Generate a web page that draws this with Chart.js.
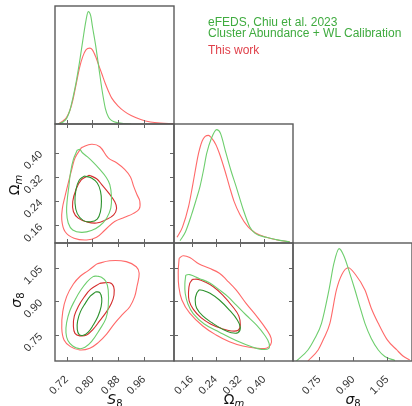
<!DOCTYPE html>
<html>
<head>
<meta charset="utf-8">
<script src="https://cdn.jsdelivr.net/npm/chart.js@4.4.0/dist/chart.umd.min.js"></script>
<style>
  html, body { margin: 0; padding: 0; background: #fff; }
  #wrap { position: relative; width: 412px; height: 406px; overflow: hidden; }
  canvas { position: absolute; left: 0; top: 0; }
  .leg { position: absolute; left: 208px; font: 12px/12px "Liberation Sans", Arial, sans-serif; white-space: nowrap; }
  .ttl { position: absolute; font: 14px/14px "DejaVu Sans", sans-serif; color: #111; white-space: nowrap; transform: translate(-50%, -50%); }
  .ttl i { font-style: oblique; }
  .ttl sub { font-size: 10px; vertical-align: -3px; line-height: 0; }
  .rot { transform: translate(-50%, -50%) rotate(-90deg); }
</style>
</head>
<body>
<div id="wrap">
  <canvas id="p11" width="412" height="406"></canvas>
  <canvas id="p21" width="412" height="406"></canvas>
  <canvas id="p22" width="412" height="406"></canvas>
  <canvas id="p31" width="412" height="406"></canvas>
  <canvas id="p32" width="412" height="406"></canvas>
  <canvas id="p33" width="412" height="406"></canvas>

  <div class="leg" style="top:15.5px;color:#3fab3f">eFEDS, Chiu et al. 2023</div>
  <div class="leg" style="top:27px;color:#3fab3f">Cluster Abundance + WL Calibration</div>
  <div class="leg" style="top:44px;color:#e0404a">This work</div>

  <div class="ttl" style="left:115px;top:399px"><i>S</i><sub>8</sub></div>
  <div class="ttl" style="left:234px;top:399px">Ω<sub><i>m</i></sub></div>
  <div class="ttl" style="left:353px;top:399px"><i>σ</i><sub>8</sub></div>
  <div class="ttl rot" style="left:14px;top:185px">Ω<sub><i>m</i></sub></div>
  <div class="ttl rot" style="left:16px;top:300px"><i>σ</i><sub>8</sub></div>
</div>
<script>
// tick labels
const s8Ticks = [0.72, 0.80, 0.88, 0.96];
const omTicks = [0.16, 0.24, 0.32, 0.40];
const sigTicks = [0.75, 0.90, 1.05];

// 1D marginals (normalised to the Chiu peak)
const chiuS8X = [0.694, 0.71, 0.72, 0.73, 0.74, 0.75, 0.76, 0.77, 0.78, 0.787, 0.795, 0.80, 0.81, 0.82, 0.83, 0.84, 0.85, 0.86, 0.88, 0.90, 0.92];
const chiuS8P = [0, 0.02, 0.05, 0.12, 0.24, 0.38, 0.55, 0.74, 0.92, 1.0, 0.96, 0.87, 0.70, 0.5, 0.3, 0.14, 0.06, 0.03, 0.01, 0.003, 0];
const workS8X = [0.694, 0.71, 0.72, 0.73, 0.74, 0.75, 0.76, 0.77, 0.78, 0.792, 0.80, 0.81, 0.82, 0.83, 0.84, 0.85, 0.86, 0.88, 0.90, 0.92, 0.95, 0.98, 1.01, 1.05];
const workS8P = [0, 0.03, 0.06, 0.12, 0.22, 0.36, 0.5, 0.6, 0.66, 0.675, 0.66, 0.6, 0.52, 0.44, 0.36, 0.29, 0.23, 0.16, 0.11, 0.075, 0.04, 0.018, 0.008, 0.003];

const chiuOmX = [0.122, 0.14, 0.16, 0.175, 0.188, 0.20, 0.21, 0.225, 0.243, 0.255, 0.274, 0.29, 0.307, 0.33, 0.352, 0.37, 0.407, 0.44, 0.484];
const chiuOmP = [0.02, 0.1, 0.25, 0.38, 0.5, 0.65, 0.79, 0.92, 1.0, 0.97, 0.79, 0.64, 0.5, 0.3, 0.144, 0.085, 0.05, 0.03, 0.01];
const workOmX = [0.112, 0.13, 0.15, 0.163, 0.175, 0.183, 0.195, 0.205, 0.216, 0.225, 0.24, 0.252, 0.27, 0.285, 0.30, 0.32, 0.346, 0.37, 0.407, 0.44, 0.484];
const workOmP = [0.05, 0.14, 0.32, 0.5, 0.68, 0.79, 0.9, 0.94, 0.95, 0.93, 0.87, 0.79, 0.64, 0.5, 0.37, 0.25, 0.144, 0.09, 0.05, 0.028, 0.01];

const chiuSigX = [0.649, 0.70, 0.73, 0.76, 0.793, 0.815, 0.838, 0.86, 0.885, 0.908, 0.93, 0.952, 0.98, 1.011, 1.04, 1.085];
const chiuSigP = [0, 0.098, 0.2, 0.335, 0.632, 0.87, 1.0, 0.93, 0.78, 0.632, 0.48, 0.335, 0.2, 0.098, 0.04, 0.005];
const workSigX = [0.70, 0.745, 0.77, 0.797, 0.826, 0.85, 0.878, 0.91, 0.952, 0.98, 1.011, 1.05, 1.093, 1.12, 1.15];
const workSigP = [0, 0.098, 0.2, 0.335, 0.632, 0.77, 0.83, 0.77, 0.632, 0.47, 0.335, 0.19, 0.098, 0.045, 0.01];

// 2D contours, [x, y] pairs, 95% (outer) and 68% (inner)
const chiuS8Om95 = [[0.753,0.409],[0.761,0.411],[0.769,0.400],[0.784,0.387],[0.802,0.369],[0.823,0.345],[0.842,0.320],[0.854,0.295],[0.859,0.256],[0.857,0.217],[0.844,0.184],[0.823,0.159],[0.797,0.143],[0.766,0.137],[0.739,0.145],[0.725,0.168],[0.720,0.206],[0.722,0.245],[0.727,0.289],[0.732,0.334],[0.741,0.378],[0.753,0.409]];
const chiuS8Om68 = [[0.774,0.323],[0.759,0.309],[0.749,0.278],[0.746,0.234],[0.753,0.199],[0.772,0.176],[0.794,0.172],[0.815,0.181],[0.825,0.206],[0.828,0.239],[0.825,0.273],[0.815,0.300],[0.797,0.317],[0.774,0.323]];
const workS8Om95 = [[0.766,0.417],[0.797,0.428],[0.823,0.420],[0.849,0.383],[0.875,0.367],[0.900,0.345],[0.918,0.320],[0.928,0.289],[0.938,0.262],[0.947,0.240],[0.945,0.214],[0.926,0.199],[0.900,0.187],[0.869,0.173],[0.839,0.145],[0.813,0.121],[0.782,0.112],[0.743,0.118],[0.715,0.140],[0.705,0.179],[0.707,0.217],[0.715,0.256],[0.725,0.300],[0.736,0.345],[0.746,0.383],[0.766,0.417]];
const workS8Om68 = [[0.790,0.326],[0.766,0.311],[0.749,0.278],[0.739,0.239],[0.741,0.206],[0.756,0.184],[0.782,0.172],[0.813,0.168],[0.842,0.179],[0.866,0.195],[0.875,0.217],[0.869,0.239],[0.852,0.265],[0.831,0.292],[0.813,0.314],[0.790,0.326]];

const chiuS8Sig95 = [[0.813,1.013],[0.828,1.007],[0.842,0.988],[0.849,0.951],[0.849,0.876],[0.842,0.824],[0.823,0.775],[0.797,0.720],[0.777,0.695],[0.759,0.689],[0.739,0.701],[0.724,0.725],[0.718,0.760],[0.720,0.805],[0.730,0.858],[0.746,0.906],[0.763,0.948],[0.784,0.988],[0.802,1.010],[0.813,1.013]];
const chiuS8Sig68 = [[0.811,0.943],[0.823,0.939],[0.829,0.913],[0.827,0.876],[0.817,0.832],[0.802,0.793],[0.787,0.763],[0.772,0.749],[0.759,0.752],[0.753,0.775],[0.754,0.812],[0.763,0.854],[0.778,0.891],[0.794,0.924],[0.811,0.943]];
const workS8Sig95 = [[0.813,1.066],[0.854,1.081],[0.905,1.077],[0.936,1.054],[0.945,1.025],[0.938,0.965],[0.931,0.921],[0.916,0.876],[0.895,0.844],[0.869,0.802],[0.844,0.754],[0.818,0.716],[0.792,0.691],[0.761,0.683],[0.732,0.698],[0.712,0.728],[0.705,0.780],[0.708,0.854],[0.720,0.921],[0.741,0.977],[0.763,1.013],[0.787,1.037],[0.813,1.066]];
const workS8Sig68 = [[0.823,0.980],[0.854,0.983],[0.866,0.965],[0.867,0.928],[0.859,0.891],[0.844,0.854],[0.823,0.814],[0.802,0.775],[0.782,0.750],[0.761,0.746],[0.746,0.757],[0.741,0.790],[0.744,0.835],[0.757,0.879],[0.774,0.918],[0.794,0.953],[0.823,0.980]];

const chiuOmSig95 = [[0.141,1.017],[0.154,1.019],[0.185,1.002],[0.219,0.983],[0.252,0.951],[0.280,0.921],[0.307,0.884],[0.340,0.839],[0.374,0.795],[0.401,0.750],[0.416,0.713],[0.414,0.689],[0.391,0.686],[0.363,0.695],[0.307,0.725],[0.252,0.762],[0.202,0.799],[0.166,0.844],[0.148,0.888],[0.139,0.936],[0.138,0.980],[0.141,1.017]];
const chiuOmSig68 = [[0.185,0.951],[0.199,0.948],[0.221,0.936],[0.252,0.906],[0.285,0.861],[0.311,0.817],[0.321,0.783],[0.313,0.760],[0.291,0.760],[0.263,0.775],[0.230,0.802],[0.197,0.835],[0.177,0.869],[0.172,0.906],[0.177,0.936],[0.185,0.951]];
const workOmSig95 = [[0.119,1.092],[0.132,1.103],[0.154,1.095],[0.185,1.066],[0.219,1.047],[0.252,1.025],[0.276,0.995],[0.307,0.951],[0.340,0.891],[0.376,0.832],[0.407,0.775],[0.423,0.735],[0.421,0.706],[0.407,0.691],[0.374,0.691],[0.329,0.701],[0.285,0.720],[0.241,0.750],[0.197,0.790],[0.154,0.847],[0.128,0.906],[0.118,0.965],[0.116,1.032],[0.119,1.092]];
const workOmSig68 = [[0.163,0.998],[0.182,0.998],[0.205,0.986],[0.232,0.965],[0.263,0.928],[0.296,0.876],[0.316,0.835],[0.321,0.795],[0.314,0.771],[0.291,0.768],[0.261,0.778],[0.224,0.798],[0.191,0.827],[0.166,0.864],[0.152,0.902],[0.150,0.943],[0.154,0.980],[0.163,0.998]];

const GREEN = 'rgb(110,206,110)';
const GREEN_D = 'rgb(45,145,45)';
const RED = 'rgb(255,105,105)';
const RED_D = 'rgb(212,45,45)';

const S8 = { min: 0.684, max: 1.053, ticks: s8Ticks };
const OM = { min: 0.102, max: 0.495, ticks: omTicks };
const SIG = { min: 0.634, max: 1.16, ticks: sigTicks };
const DENS = { min: 0, max: 1.05, ticks: [] };

// room reserved for the labelled axes
const YW = 50;
const XH = 40;

const xy = (xs, ys) => xs.map((x, i) => ({ x, y: ys[i] }));
const pts = arr => arr.map(p => ({ x: p[0], y: p[1] }));

function curve(xs, ys, color) {
  return { data: xy(xs, ys), showLine: true, borderColor: color, borderWidth: 1.1, pointRadius: 0, cubicInterpolationMode: 'monotone' };
}
function contour(arr, color) {
  return { data: pts(arr), showLine: true, borderColor: color, borderWidth: 1.1, pointRadius: 0, tension: 0.4 };
}

// frame + inward tick marks
const framePlugin = {
  id: 'frame',
  afterDraw(chart, args, opts) {
    const { ctx, chartArea: a, scales } = chart;
    ctx.save();
    ctx.strokeStyle = '#5a5a5a';
    ctx.lineWidth = 1.4;
    ctx.strokeRect(a.left, a.top, a.right - a.left, a.bottom - a.top);
    ctx.lineWidth = 1;
    ctx.strokeStyle = '#666';
    const L = 4;
    const seg = (x1, y1, x2, y2) => { ctx.beginPath(); ctx.moveTo(x1, y1); ctx.lineTo(x2, y2); ctx.stroke(); };
    scales.x.ticks.forEach(t => {
      const p = Math.round(scales.x.getPixelForValue(t.value)) + 0.5;
      seg(p, a.bottom, p, a.bottom - L);
      if (opts.all) seg(p, a.top, p, a.top + L);
    });
    if (opts.all) {
      scales.y.ticks.forEach(t => {
        const p = Math.round(scales.y.getPixelForValue(t.value)) + 0.5;
        seg(a.left, p, a.left + L, p);
        seg(a.right, p, a.right - L, p);
      });
    }
    ctx.restore();
  }
};

function axis(def, position, labels) {
  return {
    type: 'linear',
    position,
    min: def.min,
    max: def.max,
    grid: { display: false },
    border: { display: false },
    ticks: {
      display: labels,
      autoSkip: false,
      minRotation: 45,
      maxRotation: 45,
      padding: position === 'left' ? 6 : 4,
      color: '#333',
      font: { family: 'Liberation Sans', size: 11 },
      callback: v => v.toFixed(2)
    },
    afterBuildTicks: s => { s.ticks = def.ticks.map(v => ({ value: v })); },
    afterFit: s => {
      if (position === 'left') s.width = labels ? YW : 0;
      else s.height = labels ? XH : 0;
    }
  };
}

function panel(id, box, xDef, yDef, datasets, o) {
  new Chart(document.getElementById(id), {
    type: 'scatter',
    data: { datasets },
    options: {
      responsive: false,
      animation: false,
      devicePixelRatio: 1,
      layout: {
        padding: {
          left: box[0] - (o.yl ? YW : 0),
          top: box[1],
          right: 412 - box[2],
          bottom: 406 - box[3] - (o.xl ? XH : 0)
        }
      },
      plugins: { legend: { display: false }, tooltip: { enabled: false }, frame: { all: o.all } },
      scales: { x: axis(xDef, 'bottom', o.xl), y: axis(yDef, 'left', o.yl) }
    },
    plugins: [framePlugin]
  });
}

const X = [55, 174, 293, 412];
const Y = [6, 124, 243, 361];

panel('p11', [X[0], Y[0], X[1], Y[1]], S8, DENS,
  [curve(chiuS8X, chiuS8P, GREEN), curve(workS8X, workS8P, RED)], { all: false, xl: false, yl: false });
panel('p22', [X[1], Y[1], X[2], Y[2]], OM, DENS,
  [curve(chiuOmX, chiuOmP, GREEN), curve(workOmX, workOmP, RED)], { all: false, xl: false, yl: false });
panel('p33', [X[2], Y[2], X[3], Y[3]], SIG, DENS,
  [curve(chiuSigX, chiuSigP, GREEN), curve(workSigX, workSigP, RED)], { all: false, xl: true, yl: false });

panel('p21', [X[0], Y[1], X[1], Y[2]], S8, OM,
  [contour(chiuS8Om95, GREEN), contour(chiuS8Om68, GREEN_D), contour(workS8Om95, RED), contour(workS8Om68, RED_D)],
  { all: true, xl: false, yl: true });
panel('p31', [X[0], Y[2], X[1], Y[3]], S8, SIG,
  [contour(chiuS8Sig95, GREEN), contour(chiuS8Sig68, GREEN_D), contour(workS8Sig95, RED), contour(workS8Sig68, RED_D)],
  { all: true, xl: true, yl: true });
panel('p32', [X[1], Y[2], X[2], Y[3]], OM, SIG,
  [contour(chiuOmSig95, GREEN), contour(chiuOmSig68, GREEN_D), contour(workOmSig95, RED), contour(workOmSig68, RED_D)],
  { all: true, xl: true, yl: false });
</script>
</body>
</html>
